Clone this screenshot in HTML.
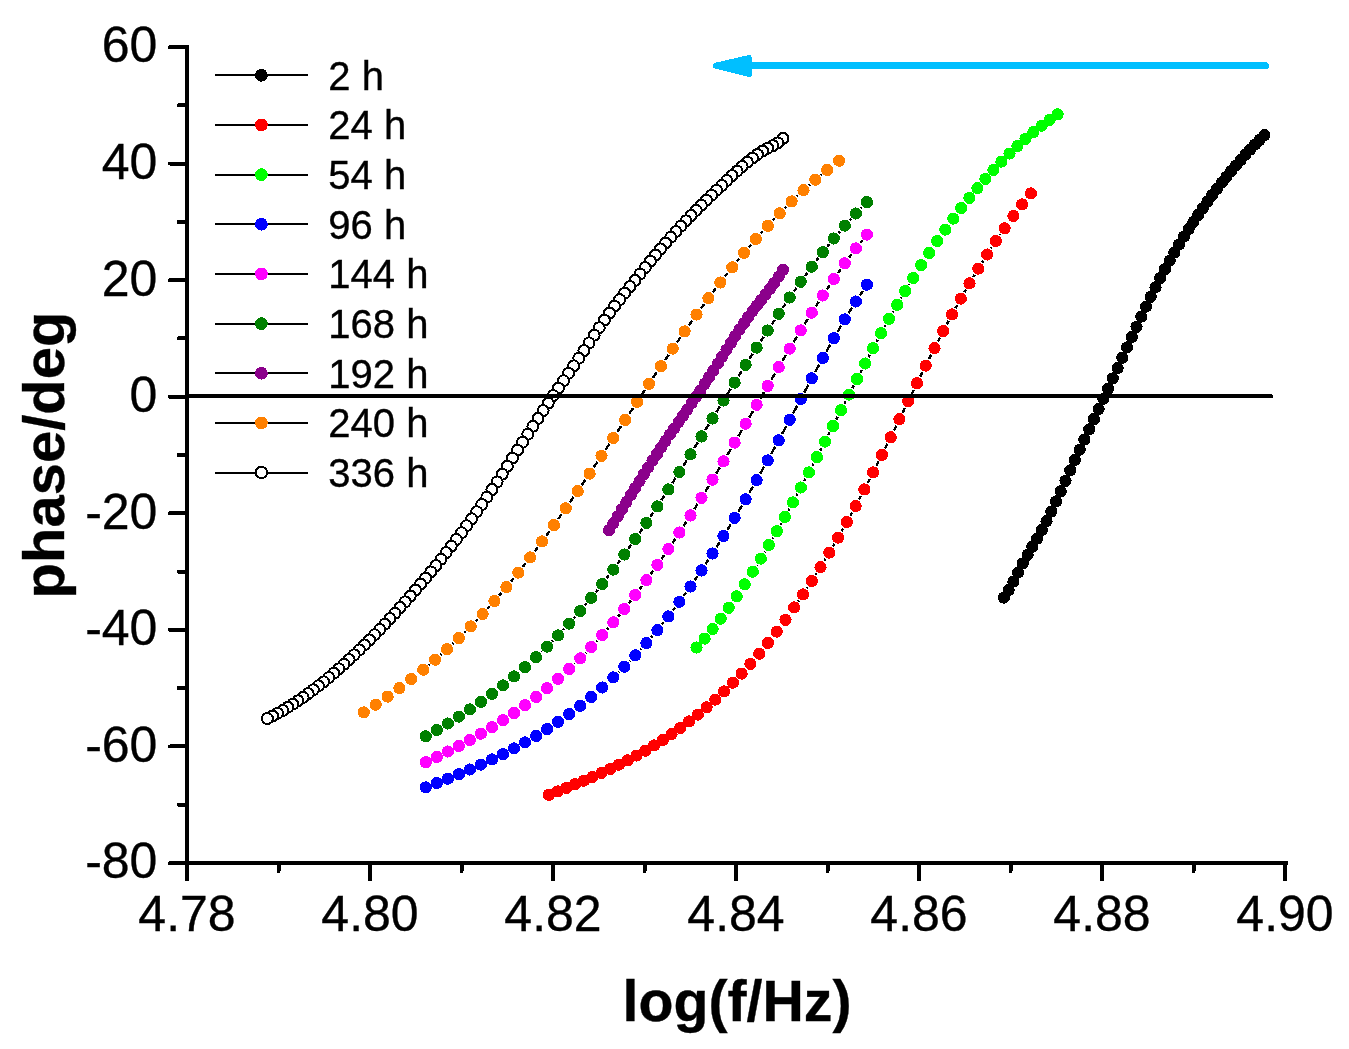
<!DOCTYPE html>
<html lang="en"><head><meta charset="utf-8"><title>phase/deg vs log(f/Hz)</title>
<style>html,body{margin:0;padding:0;background:#fff}body{width:1349px;height:1049px;overflow:hidden}svg{display:block;will-change:transform}text{font-family:"Liberation Sans",Arial,Helvetica,sans-serif;fill:#000;stroke:#000;stroke-width:0.35px}</style>
</head><body>
<svg width="1349" height="1049" viewBox="0 0 1349 1049" shape-rendering="crispEdges">
<rect width="1349" height="1049" fill="#fff"/>
<g>
<g fill="#000000">
<circle cx="1264.4" cy="135.2" r="6.1"/>
<circle cx="1259.7" cy="139.9" r="6.1"/>
<circle cx="1254.9" cy="144.7" r="6.1"/>
<circle cx="1250.2" cy="149.6" r="6.1"/>
<circle cx="1245.5" cy="154.7" r="6.1"/>
<circle cx="1240.7" cy="160.0" r="6.1"/>
<circle cx="1236.0" cy="165.4" r="6.1"/>
<circle cx="1231.2" cy="171.0" r="6.1"/>
<circle cx="1226.5" cy="176.8" r="6.1"/>
<circle cx="1221.8" cy="182.7" r="6.1"/>
<circle cx="1217.0" cy="188.8" r="6.1"/>
<circle cx="1212.3" cy="195.1" r="6.1"/>
<circle cx="1207.6" cy="201.5" r="6.1"/>
<circle cx="1202.8" cy="208.2" r="6.1"/>
<circle cx="1198.1" cy="215.0" r="6.1"/>
<circle cx="1193.4" cy="222.0" r="6.1"/>
<circle cx="1188.6" cy="229.2" r="6.1"/>
<circle cx="1183.9" cy="236.7" r="6.1"/>
<circle cx="1179.1" cy="244.4" r="6.1"/>
<circle cx="1174.4" cy="252.4" r="6.1"/>
<circle cx="1169.7" cy="260.7" r="6.1"/>
<circle cx="1164.9" cy="269.2" r="6.1"/>
<circle cx="1160.2" cy="278.1" r="6.1"/>
<circle cx="1155.5" cy="287.3" r="6.1"/>
<circle cx="1150.7" cy="296.8" r="6.1"/>
<circle cx="1146.0" cy="306.6" r="6.1"/>
<circle cx="1141.3" cy="316.6" r="6.1"/>
<circle cx="1136.5" cy="326.8" r="6.1"/>
<circle cx="1131.8" cy="337.1" r="6.1"/>
<circle cx="1127.0" cy="347.4" r="6.1"/>
<circle cx="1122.3" cy="357.8" r="6.1"/>
<circle cx="1117.6" cy="368.1" r="6.1"/>
<circle cx="1112.8" cy="378.4" r="6.1"/>
<circle cx="1108.1" cy="388.6" r="6.1"/>
<circle cx="1103.4" cy="398.8" r="6.1"/>
<circle cx="1098.6" cy="409.0" r="6.1"/>
<circle cx="1093.9" cy="419.1" r="6.1"/>
<circle cx="1089.2" cy="429.3" r="6.1"/>
<circle cx="1084.4" cy="439.5" r="6.1"/>
<circle cx="1079.7" cy="449.7" r="6.1"/>
<circle cx="1074.9" cy="460.0" r="6.1"/>
<circle cx="1070.2" cy="470.3" r="6.1"/>
<circle cx="1065.5" cy="480.8" r="6.1"/>
<circle cx="1060.7" cy="491.2" r="6.1"/>
<circle cx="1056.0" cy="501.5" r="6.1"/>
<circle cx="1051.3" cy="511.5" r="6.1"/>
<circle cx="1046.5" cy="521.1" r="6.1"/>
<circle cx="1041.8" cy="530.1" r="6.1"/>
<circle cx="1037.1" cy="538.6" r="6.1"/>
<circle cx="1032.3" cy="546.7" r="6.1"/>
<circle cx="1027.6" cy="554.8" r="6.1"/>
<circle cx="1022.8" cy="563.4" r="6.1"/>
<circle cx="1018.1" cy="572.5" r="6.1"/>
<circle cx="1013.4" cy="581.6" r="6.1"/>
<circle cx="1008.6" cy="590.2" r="6.1"/>
<circle cx="1003.9" cy="597.6" r="6.1"/>
</g></g>
<g>
<path d="M798.3 601.4L798.9 600.5M807.0 588.4L807.8 587.2M815.6 574.9L816.6 573.3M824.3 560.9L825.5 558.9M833.0 546.3L834.4 543.9M841.6 531.3L843.2 528.4M850.3 515.7L852.1 512.4M859.0 499.6L860.9 495.9M867.7 483.0L869.8 478.9M876.4 465.9L878.6 461.4M885.1 448.4L887.4 443.7M893.9 430.6L896.2 425.8M902.6 412.7L905.0 407.8M911.4 394.7L913.7 389.9M920.2 376.8L922.5 372.1M929.0 359.1L931.2 354.6M937.8 341.6L939.9 337.6M946.7 324.6L948.6 321.0M955.5 308.1L957.3 305.0M964.4 292.3L965.9 289.6M973.3 277.0L974.6 274.9M982.2 262.4L983.2 260.7M991.1 248.4L991.9 247.2M1000.0 235.1L1000.5 234.3" fill="none" stroke="#000" stroke-width="2.4"/>
<g fill="#ff0000">
<circle cx="1030.9" cy="193.4" r="6.1"/>
<circle cx="1022.1" cy="204.4" r="6.1"/>
<circle cx="1013.4" cy="216.0" r="6.1"/>
<circle cx="1004.6" cy="228.3" r="6.1"/>
<circle cx="995.8" cy="241.1" r="6.1"/>
<circle cx="987.1" cy="254.5" r="6.1"/>
<circle cx="978.3" cy="268.6" r="6.1"/>
<circle cx="969.5" cy="283.3" r="6.1"/>
<circle cx="960.8" cy="298.6" r="6.1"/>
<circle cx="952.0" cy="314.5" r="6.1"/>
<circle cx="943.2" cy="331.1" r="6.1"/>
<circle cx="934.5" cy="348.1" r="6.1"/>
<circle cx="925.7" cy="365.6" r="6.1"/>
<circle cx="916.9" cy="383.3" r="6.1"/>
<circle cx="908.2" cy="401.2" r="6.1"/>
<circle cx="899.4" cy="419.2" r="6.1"/>
<circle cx="890.7" cy="437.2" r="6.1"/>
<circle cx="881.9" cy="454.9" r="6.1"/>
<circle cx="873.1" cy="472.4" r="6.1"/>
<circle cx="864.4" cy="489.4" r="6.1"/>
<circle cx="855.6" cy="506.0" r="6.1"/>
<circle cx="846.8" cy="522.1" r="6.1"/>
<circle cx="838.1" cy="537.6" r="6.1"/>
<circle cx="829.3" cy="552.6" r="6.1"/>
<circle cx="820.5" cy="567.1" r="6.1"/>
<circle cx="811.8" cy="581.1" r="6.1"/>
<circle cx="803.0" cy="594.5" r="6.1"/>
<circle cx="794.2" cy="607.4" r="6.1"/>
<circle cx="785.5" cy="619.8" r="6.1"/>
<circle cx="776.7" cy="631.6" r="6.1"/>
<circle cx="767.9" cy="642.9" r="6.1"/>
<circle cx="759.2" cy="653.7" r="6.1"/>
<circle cx="750.4" cy="663.9" r="6.1"/>
<circle cx="741.6" cy="673.6" r="6.1"/>
<circle cx="732.9" cy="682.7" r="6.1"/>
<circle cx="724.1" cy="691.4" r="6.1"/>
<circle cx="715.3" cy="699.6" r="6.1"/>
<circle cx="706.6" cy="707.3" r="6.1"/>
<circle cx="697.8" cy="714.6" r="6.1"/>
<circle cx="689.0" cy="721.5" r="6.1"/>
<circle cx="680.3" cy="728.0" r="6.1"/>
<circle cx="671.5" cy="734.2" r="6.1"/>
<circle cx="662.8" cy="740.0" r="6.1"/>
<circle cx="654.0" cy="745.5" r="6.1"/>
<circle cx="645.2" cy="750.7" r="6.1"/>
<circle cx="636.5" cy="755.6" r="6.1"/>
<circle cx="627.7" cy="760.3" r="6.1"/>
<circle cx="618.9" cy="764.7" r="6.1"/>
<circle cx="610.2" cy="769.0" r="6.1"/>
<circle cx="601.4" cy="773.0" r="6.1"/>
<circle cx="592.6" cy="776.9" r="6.1"/>
<circle cx="583.9" cy="780.7" r="6.1"/>
<circle cx="575.1" cy="784.3" r="6.1"/>
<circle cx="566.3" cy="787.9" r="6.1"/>
<circle cx="557.6" cy="791.4" r="6.1"/>
<circle cx="548.8" cy="794.8" r="6.1"/>
</g></g>
<g>
<path d="M756.6 565.5L757.0 564.8M764.5 552.3L765.1 551.4M772.4 538.8L773.2 537.5M780.4 524.8L781.3 523.3M788.4 510.6L789.3 508.8M796.3 495.9L797.4 493.9M804.3 481.1L805.5 478.8M812.3 465.9L813.5 463.6M820.3 450.6L821.6 448.1M828.3 435.1L829.6 432.5M836.3 419.5L837.7 416.8M844.3 403.8L845.7 401.1M852.4 388.1L853.7 385.5M860.4 372.5L861.7 369.9M868.5 357.0L869.7 354.7M876.5 341.8L877.7 339.7M884.6 326.9L885.6 325.2M892.8 312.5L893.5 311.1M900.9 298.5L901.5 297.4M909.0 284.9L909.4 284.2" fill="none" stroke="#000" stroke-width="2.4"/>
<g fill="#00ff00">
<circle cx="1057.6" cy="114.3" r="6.1"/>
<circle cx="1049.6" cy="119.8" r="6.1"/>
<circle cx="1041.6" cy="125.7" r="6.1"/>
<circle cx="1033.5" cy="132.0" r="6.1"/>
<circle cx="1025.5" cy="138.8" r="6.1"/>
<circle cx="1017.5" cy="146.0" r="6.1"/>
<circle cx="1009.5" cy="153.6" r="6.1"/>
<circle cx="1001.4" cy="161.6" r="6.1"/>
<circle cx="993.4" cy="170.0" r="6.1"/>
<circle cx="985.4" cy="178.9" r="6.1"/>
<circle cx="977.4" cy="188.2" r="6.1"/>
<circle cx="969.4" cy="197.9" r="6.1"/>
<circle cx="961.3" cy="208.0" r="6.1"/>
<circle cx="953.3" cy="218.6" r="6.1"/>
<circle cx="945.3" cy="229.6" r="6.1"/>
<circle cx="937.3" cy="241.1" r="6.1"/>
<circle cx="929.2" cy="252.9" r="6.1"/>
<circle cx="921.2" cy="265.2" r="6.1"/>
<circle cx="913.2" cy="278.0" r="6.1"/>
<circle cx="905.2" cy="291.1" r="6.1"/>
<circle cx="897.2" cy="304.8" r="6.1"/>
<circle cx="889.1" cy="318.8" r="6.1"/>
<circle cx="881.1" cy="333.3" r="6.1"/>
<circle cx="873.1" cy="348.2" r="6.1"/>
<circle cx="865.1" cy="363.5" r="6.1"/>
<circle cx="857.0" cy="379.0" r="6.1"/>
<circle cx="849.0" cy="394.6" r="6.1"/>
<circle cx="841.0" cy="410.3" r="6.1"/>
<circle cx="833.0" cy="426.0" r="6.1"/>
<circle cx="825.0" cy="441.6" r="6.1"/>
<circle cx="816.9" cy="457.1" r="6.1"/>
<circle cx="808.9" cy="472.4" r="6.1"/>
<circle cx="800.9" cy="487.5" r="6.1"/>
<circle cx="792.9" cy="502.4" r="6.1"/>
<circle cx="784.8" cy="516.9" r="6.1"/>
<circle cx="776.8" cy="531.2" r="6.1"/>
<circle cx="768.8" cy="545.1" r="6.1"/>
<circle cx="760.8" cy="558.6" r="6.1"/>
<circle cx="752.8" cy="571.7" r="6.1"/>
<circle cx="744.7" cy="584.3" r="6.1"/>
<circle cx="736.7" cy="596.3" r="6.1"/>
<circle cx="728.7" cy="607.8" r="6.1"/>
<circle cx="720.7" cy="618.7" r="6.1"/>
<circle cx="712.6" cy="629.0" r="6.1"/>
<circle cx="704.6" cy="638.6" r="6.1"/>
<circle cx="696.6" cy="647.5" r="6.1"/>
</g></g>
<g>
<path d="M618.5 672.3L619.1 671.8M629.4 661.4L630.3 660.5M640.2 649.8L641.4 648.5M651.1 637.5L652.6 635.7M661.9 624.5L663.8 622.1M672.8 610.6L675.0 607.7M683.7 595.9L686.2 592.4M694.6 580.5L697.4 576.4M705.5 564.3L708.5 559.6M716.4 547.4L719.6 542.2M727.3 529.8L730.8 524.2M738.3 511.7L741.9 505.6M749.2 492.9L753.0 486.4M760.2 473.7L764.1 466.8M771.2 454.0L775.2 446.7M782.1 433.9L786.2 426.3M793.1 413.4L797.3 405.5M804.2 392.6L808.3 384.8M815.2 371.9L819.3 364.4M826.4 351.6L830.3 344.6M837.5 331.9L841.2 325.7M848.7 313.2L852.0 307.7M859.9 295.4L862.9 290.8" fill="none" stroke="#000" stroke-width="2.4"/>
<g fill="#0000ff">
<circle cx="866.9" cy="284.7" r="6.1"/>
<circle cx="855.9" cy="301.5" r="6.1"/>
<circle cx="844.8" cy="319.4" r="6.1"/>
<circle cx="833.8" cy="338.2" r="6.1"/>
<circle cx="822.8" cy="357.9" r="6.1"/>
<circle cx="811.8" cy="378.3" r="6.1"/>
<circle cx="800.7" cy="399.1" r="6.1"/>
<circle cx="789.7" cy="419.8" r="6.1"/>
<circle cx="778.7" cy="440.3" r="6.1"/>
<circle cx="767.7" cy="460.4" r="6.1"/>
<circle cx="756.6" cy="480.1" r="6.1"/>
<circle cx="745.6" cy="499.3" r="6.1"/>
<circle cx="734.6" cy="517.9" r="6.1"/>
<circle cx="723.5" cy="536.0" r="6.1"/>
<circle cx="712.5" cy="553.5" r="6.1"/>
<circle cx="701.5" cy="570.4" r="6.1"/>
<circle cx="690.5" cy="586.5" r="6.1"/>
<circle cx="679.4" cy="601.8" r="6.1"/>
<circle cx="668.4" cy="616.4" r="6.1"/>
<circle cx="657.4" cy="630.2" r="6.1"/>
<circle cx="646.4" cy="643.1" r="6.1"/>
<circle cx="635.3" cy="655.3" r="6.1"/>
<circle cx="624.3" cy="666.7" r="6.1"/>
<circle cx="613.3" cy="677.4" r="6.1"/>
<circle cx="602.2" cy="687.5" r="6.1"/>
<circle cx="591.2" cy="696.9" r="6.1"/>
<circle cx="580.2" cy="705.8" r="6.1"/>
<circle cx="569.2" cy="714.1" r="6.1"/>
<circle cx="558.1" cy="721.8" r="6.1"/>
<circle cx="547.1" cy="729.1" r="6.1"/>
<circle cx="536.1" cy="736.0" r="6.1"/>
<circle cx="525.0" cy="742.4" r="6.1"/>
<circle cx="514.0" cy="748.4" r="6.1"/>
<circle cx="503.0" cy="754.1" r="6.1"/>
<circle cx="492.0" cy="759.5" r="6.1"/>
<circle cx="480.9" cy="764.6" r="6.1"/>
<circle cx="469.9" cy="769.5" r="6.1"/>
<circle cx="458.9" cy="774.2" r="6.1"/>
<circle cx="447.9" cy="778.7" r="6.1"/>
<circle cx="436.8" cy="783.1" r="6.1"/>
<circle cx="425.8" cy="787.4" r="6.1"/>
</g></g>
<g>
<path d="M574.4 663.8L574.9 663.3M585.3 653.1L586.1 652.2M596.2 641.6L597.3 640.4M607.0 629.5L608.5 627.8M617.9 616.7L619.7 614.6M628.8 603.2L630.8 600.7M639.7 589.1L642.0 586.1M650.6 574.3L653.1 570.8M661.5 558.9L664.2 555.0M672.5 542.9L675.4 538.6M683.4 526.4L686.5 521.6M694.3 509.2L697.6 504.0M705.3 491.6L708.7 486.0M716.3 473.5L719.8 467.6M727.3 455.0L730.9 448.9M738.3 436.3L741.9 430.0M749.3 417.4L753.0 411.1M760.3 398.5L764.0 392.2M771.4 379.6L775.0 373.4M782.4 360.9L786.0 354.9M793.5 342.4L797.0 336.7M804.6 324.2L807.9 318.9M815.7 306.5L818.8 301.7M826.8 289.4L829.8 285.1M838.0 273.0L840.7 269.3M849.2 257.4L851.5 254.3M860.4 242.7L862.4 240.3" fill="none" stroke="#000" stroke-width="2.4"/>
<g fill="#ff00ff">
<circle cx="866.9" cy="234.6" r="6.1"/>
<circle cx="855.9" cy="248.4" r="6.1"/>
<circle cx="844.8" cy="263.3" r="6.1"/>
<circle cx="833.8" cy="279.0" r="6.1"/>
<circle cx="822.8" cy="295.5" r="6.1"/>
<circle cx="811.8" cy="312.7" r="6.1"/>
<circle cx="800.7" cy="330.4" r="6.1"/>
<circle cx="789.7" cy="348.6" r="6.1"/>
<circle cx="778.7" cy="367.1" r="6.1"/>
<circle cx="767.7" cy="385.9" r="6.1"/>
<circle cx="756.6" cy="404.8" r="6.1"/>
<circle cx="745.6" cy="423.7" r="6.1"/>
<circle cx="734.6" cy="442.6" r="6.1"/>
<circle cx="723.5" cy="461.3" r="6.1"/>
<circle cx="712.5" cy="479.7" r="6.1"/>
<circle cx="701.5" cy="497.8" r="6.1"/>
<circle cx="690.5" cy="515.4" r="6.1"/>
<circle cx="679.4" cy="532.5" r="6.1"/>
<circle cx="668.4" cy="549.0" r="6.1"/>
<circle cx="657.4" cy="564.9" r="6.1"/>
<circle cx="646.4" cy="580.2" r="6.1"/>
<circle cx="635.3" cy="594.9" r="6.1"/>
<circle cx="624.3" cy="609.0" r="6.1"/>
<circle cx="613.3" cy="622.3" r="6.1"/>
<circle cx="602.2" cy="635.0" r="6.1"/>
<circle cx="591.2" cy="647.0" r="6.1"/>
<circle cx="580.2" cy="658.3" r="6.1"/>
<circle cx="569.2" cy="668.9" r="6.1"/>
<circle cx="558.1" cy="678.8" r="6.1"/>
<circle cx="547.1" cy="688.2" r="6.1"/>
<circle cx="536.1" cy="697.0" r="6.1"/>
<circle cx="525.0" cy="705.2" r="6.1"/>
<circle cx="514.0" cy="713.0" r="6.1"/>
<circle cx="503.0" cy="720.3" r="6.1"/>
<circle cx="492.0" cy="727.2" r="6.1"/>
<circle cx="480.9" cy="733.7" r="6.1"/>
<circle cx="469.9" cy="740.0" r="6.1"/>
<circle cx="458.9" cy="745.9" r="6.1"/>
<circle cx="447.9" cy="751.5" r="6.1"/>
<circle cx="436.8" cy="756.9" r="6.1"/>
<circle cx="425.8" cy="762.2" r="6.1"/>
</g></g>
<g>
<path d="M541.3 652.1L541.8 651.7M552.2 641.4L553.0 640.6M563.1 630.1L564.2 628.9M574.0 618.1L575.4 616.5M584.9 605.4L586.5 603.4M595.8 592.1L597.7 589.7M606.7 578.2L608.8 575.4M617.6 563.7L620.0 560.4M628.5 548.6L631.1 544.9M639.5 533.0L642.2 528.9M650.4 516.8L653.3 512.4M661.4 500.3L664.4 495.5M672.3 483.2L675.5 478.1M683.3 465.8L686.6 460.5M694.3 448.1L697.7 442.6M705.3 430.1L708.7 424.6M716.3 412.2L719.7 406.6M727.4 394.2L730.7 388.8M738.4 376.4L741.7 371.1M749.5 358.8L752.7 353.7M760.6 341.4L763.7 336.7M771.7 324.4L774.7 319.9M782.8 307.8L785.6 303.6M793.9 291.5L796.5 287.8M805.0 275.9L807.5 272.6M816.2 260.9L818.4 258.0M827.4 246.5L829.2 244.2M838.6 233.0L840.1 231.2M849.8 220.2L851.0 218.9M861.0 208.2L861.8 207.3" fill="none" stroke="#000" stroke-width="2.4"/>
<g fill="#008000">
<circle cx="866.9" cy="202.1" r="6.1"/>
<circle cx="855.9" cy="213.5" r="6.1"/>
<circle cx="844.8" cy="225.6" r="6.1"/>
<circle cx="833.8" cy="238.5" r="6.1"/>
<circle cx="822.8" cy="252.2" r="6.1"/>
<circle cx="811.8" cy="266.7" r="6.1"/>
<circle cx="800.7" cy="281.8" r="6.1"/>
<circle cx="789.7" cy="297.5" r="6.1"/>
<circle cx="778.7" cy="313.8" r="6.1"/>
<circle cx="767.7" cy="330.5" r="6.1"/>
<circle cx="756.6" cy="347.6" r="6.1"/>
<circle cx="745.6" cy="364.9" r="6.1"/>
<circle cx="734.6" cy="382.6" r="6.1"/>
<circle cx="723.5" cy="400.4" r="6.1"/>
<circle cx="712.5" cy="418.4" r="6.1"/>
<circle cx="701.5" cy="436.4" r="6.1"/>
<circle cx="690.5" cy="454.3" r="6.1"/>
<circle cx="679.4" cy="472.0" r="6.1"/>
<circle cx="668.4" cy="489.4" r="6.1"/>
<circle cx="657.4" cy="506.4" r="6.1"/>
<circle cx="646.4" cy="522.9" r="6.1"/>
<circle cx="635.3" cy="539.0" r="6.1"/>
<circle cx="624.3" cy="554.5" r="6.1"/>
<circle cx="613.3" cy="569.6" r="6.1"/>
<circle cx="602.2" cy="584.0" r="6.1"/>
<circle cx="591.2" cy="597.8" r="6.1"/>
<circle cx="580.2" cy="611.0" r="6.1"/>
<circle cx="569.2" cy="623.6" r="6.1"/>
<circle cx="558.1" cy="635.4" r="6.1"/>
<circle cx="547.1" cy="646.6" r="6.1"/>
<circle cx="536.1" cy="657.2" r="6.1"/>
<circle cx="525.0" cy="667.1" r="6.1"/>
<circle cx="514.0" cy="676.5" r="6.1"/>
<circle cx="503.0" cy="685.4" r="6.1"/>
<circle cx="492.0" cy="693.9" r="6.1"/>
<circle cx="480.9" cy="701.8" r="6.1"/>
<circle cx="469.9" cy="709.4" r="6.1"/>
<circle cx="458.9" cy="716.6" r="6.1"/>
<circle cx="447.9" cy="723.5" r="6.1"/>
<circle cx="436.8" cy="730.0" r="6.1"/>
<circle cx="425.8" cy="736.3" r="6.1"/>
</g></g>
<g>
<g fill="#8b008b">
<circle cx="783.0" cy="269.8" r="6.1"/>
<circle cx="778.6" cy="276.7" r="6.1"/>
<circle cx="774.3" cy="283.0" r="6.1"/>
<circle cx="770.0" cy="288.9" r="6.1"/>
<circle cx="765.6" cy="294.5" r="6.1"/>
<circle cx="761.2" cy="300.0" r="6.1"/>
<circle cx="756.9" cy="305.5" r="6.1"/>
<circle cx="752.5" cy="311.2" r="6.1"/>
<circle cx="748.2" cy="317.1" r="6.1"/>
<circle cx="743.9" cy="323.3" r="6.1"/>
<circle cx="739.5" cy="329.7" r="6.1"/>
<circle cx="735.1" cy="336.3" r="6.1"/>
<circle cx="730.8" cy="343.0" r="6.1"/>
<circle cx="726.5" cy="349.8" r="6.1"/>
<circle cx="722.1" cy="356.7" r="6.1"/>
<circle cx="717.8" cy="363.6" r="6.1"/>
<circle cx="713.4" cy="370.4" r="6.1"/>
<circle cx="709.0" cy="377.2" r="6.1"/>
<circle cx="704.7" cy="383.9" r="6.1"/>
<circle cx="700.4" cy="390.5" r="6.1"/>
<circle cx="696.0" cy="396.9" r="6.1"/>
<circle cx="691.6" cy="403.2" r="6.1"/>
<circle cx="687.3" cy="409.5" r="6.1"/>
<circle cx="683.0" cy="415.8" r="6.1"/>
<circle cx="678.6" cy="422.0" r="6.1"/>
<circle cx="674.2" cy="428.3" r="6.1"/>
<circle cx="669.9" cy="434.6" r="6.1"/>
<circle cx="665.5" cy="441.0" r="6.1"/>
<circle cx="661.2" cy="447.5" r="6.1"/>
<circle cx="656.9" cy="454.1" r="6.1"/>
<circle cx="652.5" cy="460.7" r="6.1"/>
<circle cx="648.1" cy="467.5" r="6.1"/>
<circle cx="643.8" cy="474.3" r="6.1"/>
<circle cx="639.5" cy="481.2" r="6.1"/>
<circle cx="635.1" cy="488.1" r="6.1"/>
<circle cx="630.8" cy="495.1" r="6.1"/>
<circle cx="626.4" cy="502.1" r="6.1"/>
<circle cx="622.0" cy="509.1" r="6.1"/>
<circle cx="617.7" cy="516.2" r="6.1"/>
<circle cx="613.4" cy="523.2" r="6.1"/>
<circle cx="609.0" cy="530.3" r="6.1"/>
</g></g>
<g>
<path d="M428.8 665.0L429.5 664.4M440.6 654.9L441.5 654.1M452.3 644.2L453.5 643.1M464.1 633.0L465.5 631.5M475.8 621.1L477.6 619.3M487.5 608.6L489.6 606.4M499.3 595.4L501.6 592.7M511.0 581.5L513.7 578.3M522.8 566.8L525.7 563.1M534.5 551.5L537.7 547.4M546.3 535.6L549.6 531.1M558.1 519.2L561.6 514.3M569.9 502.3L573.5 497.1M581.8 485.1L585.5 479.6M593.6 467.5L597.4 461.9M605.5 449.7L609.3 444.0M617.4 431.8L621.2 426.0M629.2 413.8L633.1 408.0M641.1 395.8L644.9 390.0M653.0 377.9L656.8 372.2M665.0 360.1L668.7 354.7M676.9 342.6L680.5 337.4M688.8 325.4L692.3 320.5M700.8 308.7L704.1 304.1M712.8 292.4L715.9 288.3M724.8 276.7L727.7 273.1M736.8 261.7L739.4 258.5M748.8 247.3L751.2 244.5M760.8 233.6L762.9 231.2M772.8 220.5L774.7 218.6M784.9 208.1L786.4 206.6M796.9 196.4L798.1 195.2M808.9 185.4L809.9 184.6M821.0 175.1L821.6 174.5" fill="none" stroke="#000" stroke-width="2.4"/>
<g fill="#ff8000">
<circle cx="839.1" cy="160.7" r="6.1"/>
<circle cx="827.2" cy="169.9" r="6.1"/>
<circle cx="815.3" cy="179.7" r="6.1"/>
<circle cx="803.5" cy="190.2" r="6.1"/>
<circle cx="791.6" cy="201.4" r="6.1"/>
<circle cx="779.7" cy="213.3" r="6.1"/>
<circle cx="767.8" cy="225.8" r="6.1"/>
<circle cx="755.9" cy="239.0" r="6.1"/>
<circle cx="744.0" cy="252.8" r="6.1"/>
<circle cx="732.2" cy="267.3" r="6.1"/>
<circle cx="720.3" cy="282.5" r="6.1"/>
<circle cx="708.4" cy="298.2" r="6.1"/>
<circle cx="696.5" cy="314.6" r="6.1"/>
<circle cx="684.6" cy="331.4" r="6.1"/>
<circle cx="672.7" cy="348.6" r="6.1"/>
<circle cx="660.9" cy="366.2" r="6.1"/>
<circle cx="649.0" cy="383.9" r="6.1"/>
<circle cx="637.1" cy="401.9" r="6.1"/>
<circle cx="625.2" cy="419.9" r="6.1"/>
<circle cx="613.3" cy="437.9" r="6.1"/>
<circle cx="601.5" cy="455.8" r="6.1"/>
<circle cx="589.6" cy="473.6" r="6.1"/>
<circle cx="577.7" cy="491.1" r="6.1"/>
<circle cx="565.8" cy="508.3" r="6.1"/>
<circle cx="553.9" cy="525.1" r="6.1"/>
<circle cx="542.0" cy="541.5" r="6.1"/>
<circle cx="530.2" cy="557.4" r="6.1"/>
<circle cx="518.3" cy="572.6" r="6.1"/>
<circle cx="506.4" cy="587.1" r="6.1"/>
<circle cx="494.5" cy="601.0" r="6.1"/>
<circle cx="482.6" cy="614.0" r="6.1"/>
<circle cx="470.7" cy="626.4" r="6.1"/>
<circle cx="458.9" cy="638.1" r="6.1"/>
<circle cx="447.0" cy="649.2" r="6.1"/>
<circle cx="435.1" cy="659.7" r="6.1"/>
<circle cx="423.2" cy="669.7" r="6.1"/>
<circle cx="411.3" cy="679.1" r="6.1"/>
<circle cx="399.4" cy="688.1" r="6.1"/>
<circle cx="387.6" cy="696.6" r="6.1"/>
<circle cx="375.7" cy="704.7" r="6.1"/>
<circle cx="363.8" cy="712.4" r="6.1"/>
</g></g>
<g>
<g fill="#fff" stroke="#000" stroke-width="2">
<circle cx="783.0" cy="138.3" r="5.5"/>
<circle cx="777.9" cy="142.9" r="5.5"/>
<circle cx="772.8" cy="145.7" r="5.5"/>
<circle cx="767.7" cy="148.2" r="5.5"/>
<circle cx="762.6" cy="151.1" r="5.5"/>
<circle cx="757.5" cy="154.5" r="5.5"/>
<circle cx="752.4" cy="158.2" r="5.5"/>
<circle cx="747.3" cy="162.2" r="5.5"/>
<circle cx="742.2" cy="166.5" r="5.5"/>
<circle cx="737.1" cy="171.1" r="5.5"/>
<circle cx="732.0" cy="175.7" r="5.5"/>
<circle cx="726.8" cy="180.5" r="5.5"/>
<circle cx="721.7" cy="185.4" r="5.5"/>
<circle cx="716.6" cy="190.3" r="5.5"/>
<circle cx="711.5" cy="195.3" r="5.5"/>
<circle cx="706.4" cy="200.2" r="5.5"/>
<circle cx="701.3" cy="205.3" r="5.5"/>
<circle cx="696.2" cy="210.4" r="5.5"/>
<circle cx="691.1" cy="215.5" r="5.5"/>
<circle cx="686.0" cy="220.8" r="5.5"/>
<circle cx="680.9" cy="226.2" r="5.5"/>
<circle cx="675.8" cy="231.6" r="5.5"/>
<circle cx="670.7" cy="237.3" r="5.5"/>
<circle cx="665.6" cy="243.0" r="5.5"/>
<circle cx="660.5" cy="248.9" r="5.5"/>
<circle cx="655.4" cy="255.0" r="5.5"/>
<circle cx="650.3" cy="261.2" r="5.5"/>
<circle cx="645.2" cy="267.6" r="5.5"/>
<circle cx="640.1" cy="274.0" r="5.5"/>
<circle cx="635.0" cy="280.4" r="5.5"/>
<circle cx="629.9" cy="286.7" r="5.5"/>
<circle cx="624.7" cy="293.1" r="5.5"/>
<circle cx="619.6" cy="299.6" r="5.5"/>
<circle cx="614.5" cy="306.2" r="5.5"/>
<circle cx="609.4" cy="313.1" r="5.5"/>
<circle cx="604.3" cy="320.2" r="5.5"/>
<circle cx="599.2" cy="327.7" r="5.5"/>
<circle cx="594.1" cy="335.2" r="5.5"/>
<circle cx="589.0" cy="342.9" r="5.5"/>
<circle cx="583.9" cy="350.6" r="5.5"/>
<circle cx="578.8" cy="358.2" r="5.5"/>
<circle cx="573.7" cy="365.8" r="5.5"/>
<circle cx="568.6" cy="373.3" r="5.5"/>
<circle cx="563.5" cy="380.8" r="5.5"/>
<circle cx="558.4" cy="388.2" r="5.5"/>
<circle cx="553.3" cy="395.6" r="5.5"/>
<circle cx="548.2" cy="403.1" r="5.5"/>
<circle cx="543.1" cy="410.7" r="5.5"/>
<circle cx="538.0" cy="418.4" r="5.5"/>
<circle cx="532.9" cy="426.3" r="5.5"/>
<circle cx="527.8" cy="434.2" r="5.5"/>
<circle cx="522.6" cy="442.2" r="5.5"/>
<circle cx="517.5" cy="450.2" r="5.5"/>
<circle cx="512.4" cy="458.2" r="5.5"/>
<circle cx="507.3" cy="466.2" r="5.5"/>
<circle cx="502.2" cy="474.1" r="5.5"/>
<circle cx="497.1" cy="481.9" r="5.5"/>
<circle cx="492.0" cy="489.5" r="5.5"/>
<circle cx="486.9" cy="497.1" r="5.5"/>
<circle cx="481.8" cy="504.4" r="5.5"/>
<circle cx="476.7" cy="511.7" r="5.5"/>
<circle cx="471.6" cy="518.8" r="5.5"/>
<circle cx="466.5" cy="525.8" r="5.5"/>
<circle cx="461.4" cy="532.7" r="5.5"/>
<circle cx="456.3" cy="539.5" r="5.5"/>
<circle cx="451.2" cy="546.2" r="5.5"/>
<circle cx="446.1" cy="552.7" r="5.5"/>
<circle cx="441.0" cy="559.2" r="5.5"/>
<circle cx="435.9" cy="565.6" r="5.5"/>
<circle cx="430.8" cy="571.9" r="5.5"/>
<circle cx="425.7" cy="578.1" r="5.5"/>
<circle cx="420.5" cy="584.1" r="5.5"/>
<circle cx="415.4" cy="590.1" r="5.5"/>
<circle cx="410.3" cy="596.0" r="5.5"/>
<circle cx="405.2" cy="601.8" r="5.5"/>
<circle cx="400.1" cy="607.5" r="5.5"/>
<circle cx="395.0" cy="613.2" r="5.5"/>
<circle cx="389.9" cy="618.7" r="5.5"/>
<circle cx="384.8" cy="624.1" r="5.5"/>
<circle cx="379.7" cy="629.4" r="5.5"/>
<circle cx="374.6" cy="634.7" r="5.5"/>
<circle cx="369.5" cy="639.9" r="5.5"/>
<circle cx="364.4" cy="644.9" r="5.5"/>
<circle cx="359.3" cy="649.9" r="5.5"/>
<circle cx="354.2" cy="654.8" r="5.5"/>
<circle cx="349.1" cy="659.6" r="5.5"/>
<circle cx="344.0" cy="664.2" r="5.5"/>
<circle cx="338.9" cy="668.8" r="5.5"/>
<circle cx="333.8" cy="673.2" r="5.5"/>
<circle cx="328.7" cy="677.6" r="5.5"/>
<circle cx="323.6" cy="681.8" r="5.5"/>
<circle cx="318.4" cy="685.8" r="5.5"/>
<circle cx="313.3" cy="689.8" r="5.5"/>
<circle cx="308.2" cy="693.6" r="5.5"/>
<circle cx="303.1" cy="697.3" r="5.5"/>
<circle cx="298.0" cy="700.8" r="5.5"/>
<circle cx="292.9" cy="704.1" r="5.5"/>
<circle cx="287.8" cy="707.3" r="5.5"/>
<circle cx="282.7" cy="710.4" r="5.5"/>
<circle cx="277.6" cy="713.3" r="5.5"/>
<circle cx="272.5" cy="716.0" r="5.5"/>
<circle cx="267.4" cy="718.5" r="5.5"/>
</g></g>
<line x1="187.0" y1="396.1" x2="1271" y2="396.1" stroke="#000" stroke-width="4" stroke-linecap="round"/>
<g stroke="#000" stroke-width="4" stroke-linecap="round" fill="none">
<line x1="187.0" y1="47.0" x2="187.0" y2="879.5"/>
<line x1="170.0" y1="863.0" x2="1286.3" y2="863.0"/>
<line x1="170.0" y1="47.0" x2="187.0" y2="47.0"/>
<line x1="178.5" y1="105.3" x2="187.0" y2="105.3"/>
<line x1="170.0" y1="163.6" x2="187.0" y2="163.6"/>
<line x1="178.5" y1="221.9" x2="187.0" y2="221.9"/>
<line x1="170.0" y1="280.1" x2="187.0" y2="280.1"/>
<line x1="178.5" y1="338.4" x2="187.0" y2="338.4"/>
<line x1="170.0" y1="396.7" x2="187.0" y2="396.7"/>
<line x1="178.5" y1="455.0" x2="187.0" y2="455.0"/>
<line x1="170.0" y1="513.3" x2="187.0" y2="513.3"/>
<line x1="178.5" y1="571.6" x2="187.0" y2="571.6"/>
<line x1="170.0" y1="629.9" x2="187.0" y2="629.9"/>
<line x1="178.5" y1="688.1" x2="187.0" y2="688.1"/>
<line x1="170.0" y1="746.4" x2="187.0" y2="746.4"/>
<line x1="178.5" y1="804.7" x2="187.0" y2="804.7"/>
<line x1="278.5" y1="863.0" x2="278.5" y2="871.0"/>
<line x1="370.0" y1="863.0" x2="370.0" y2="879.5"/>
<line x1="461.5" y1="863.0" x2="461.5" y2="871.0"/>
<line x1="553.0" y1="863.0" x2="553.0" y2="879.5"/>
<line x1="644.5" y1="863.0" x2="644.5" y2="871.0"/>
<line x1="736.0" y1="863.0" x2="736.0" y2="879.5"/>
<line x1="827.5" y1="863.0" x2="827.5" y2="871.0"/>
<line x1="919.0" y1="863.0" x2="919.0" y2="879.5"/>
<line x1="1010.5" y1="863.0" x2="1010.5" y2="871.0"/>
<line x1="1102.0" y1="863.0" x2="1102.0" y2="879.5"/>
<line x1="1193.5" y1="863.0" x2="1193.5" y2="871.0"/>
<line x1="1285.0" y1="863.0" x2="1285.0" y2="879.5"/>
</g>
<g font-size="50">
<text x="157.4" y="62.4" text-anchor="end">60</text>
<text x="157.4" y="179.0" text-anchor="end">40</text>
<text x="157.4" y="295.5" text-anchor="end">20</text>
<text x="157.4" y="412.1" text-anchor="end">0</text>
<text x="157.4" y="528.7" text-anchor="end">-20</text>
<text x="157.4" y="645.3" text-anchor="end">-40</text>
<text x="157.4" y="761.8" text-anchor="end">-60</text>
<text x="157.4" y="878.4" text-anchor="end">-80</text>
<text x="187.0" y="931" text-anchor="middle">4.78</text>
<text x="370.0" y="931" text-anchor="middle">4.80</text>
<text x="553.0" y="931" text-anchor="middle">4.82</text>
<text x="736.0" y="931" text-anchor="middle">4.84</text>
<text x="919.0" y="931" text-anchor="middle">4.86</text>
<text x="1102.0" y="931" text-anchor="middle">4.88</text>
<text x="1285.0" y="931" text-anchor="middle">4.90</text>
</g>
<text x="737" y="1021" font-size="58" font-weight="bold" text-anchor="middle" textLength="229" lengthAdjust="spacingAndGlyphs">log(f/Hz)</text>
<text transform="translate(63.5,455) rotate(-90)" font-size="58" font-weight="bold" text-anchor="middle">phase/deg</text>
<g font-size="40">
<line x1="215" y1="75.3" x2="308" y2="75.3" stroke="#000" stroke-width="2"/>
<circle cx="261.4" cy="75.3" r="6.4" fill="#000000"/>
<text x="328.3" y="89.8">2 h</text>
<line x1="215" y1="124.9" x2="308" y2="124.9" stroke="#000" stroke-width="2"/>
<circle cx="261.4" cy="124.9" r="6.4" fill="#ff0000"/>
<text x="328.3" y="139.4">24 h</text>
<line x1="215" y1="174.6" x2="308" y2="174.6" stroke="#000" stroke-width="2"/>
<circle cx="261.4" cy="174.6" r="6.4" fill="#00ff00"/>
<text x="328.3" y="189.1">54 h</text>
<line x1="215" y1="224.2" x2="308" y2="224.2" stroke="#000" stroke-width="2"/>
<circle cx="261.4" cy="224.2" r="6.4" fill="#0000ff"/>
<text x="328.3" y="238.8">96 h</text>
<line x1="215" y1="273.9" x2="308" y2="273.9" stroke="#000" stroke-width="2"/>
<circle cx="261.4" cy="273.9" r="6.4" fill="#ff00ff"/>
<text x="328.3" y="288.4">144 h</text>
<line x1="215" y1="323.6" x2="308" y2="323.6" stroke="#000" stroke-width="2"/>
<circle cx="261.4" cy="323.6" r="6.4" fill="#008000"/>
<text x="328.3" y="338.1">168 h</text>
<line x1="215" y1="373.2" x2="308" y2="373.2" stroke="#000" stroke-width="2"/>
<circle cx="261.4" cy="373.2" r="6.4" fill="#8b008b"/>
<text x="328.3" y="387.7">192 h</text>
<line x1="215" y1="422.9" x2="308" y2="422.9" stroke="#000" stroke-width="2"/>
<circle cx="261.4" cy="422.9" r="6.4" fill="#ff8000"/>
<text x="328.3" y="437.4">240 h</text>
<line x1="215" y1="472.5" x2="308" y2="472.5" stroke="#000" stroke-width="2"/>
<circle cx="261.4" cy="472.5" r="5.7" fill="#fff" stroke="#000" stroke-width="2"/>
<text x="328.3" y="487.0">336 h</text>
</g>
<g stroke="#00bfff" fill="#00bfff" stroke-linejoin="round" stroke-linecap="round">
<line x1="752" y1="65.5" x2="1265.5" y2="65.5" stroke-width="7"/>
<polygon points="716,65.7 749,58 749,74" stroke-width="6"/>
</g>
</svg></body></html>
